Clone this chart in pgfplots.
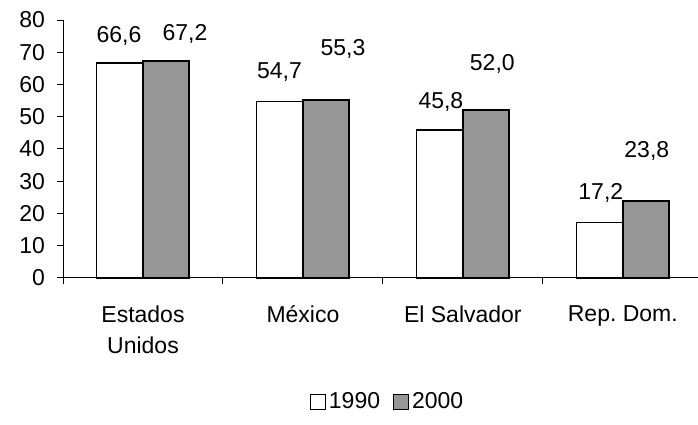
\documentclass[border=0pt]{standalone}
\usepackage{pgfplots}
\pgfplotsset{compat=1.18}
\usepackage{fontspec}
\setmainfont{Liberation Sans}
\definecolor{bargray}{RGB}{150,150,150}
\begin{document}
\fontsize{11.5}{15.5}\selectfont
\begin{tikzpicture}
\begin{axis}[
  scale only axis, width=317.5pt, height=129pt,
  xmin=-0.5, xmax=3.47, ymin=0, ymax=80,
  axis x line=bottom, axis y line=left,
  axis line style={-, line width=0.5pt},
  ytick={0,10,...,80},
  xtick={-0.5,0.5,1.5,2.5}, xticklabels={},
  extra x ticks={0,1,2,3},
  extra x tick labels={Estados\\Unidos, México, El Salvador, Rep.\ Dom.},
  extra x tick style={major tick length=0pt, tick label style={align=center, anchor=north, yshift=-10pt}},
  tick align=outside, major tick length=3pt,
  tick style={black, line width=0.5pt},
  tick label style={font=\fontsize{11.5}{15.5}\selectfont},
  yticklabel style={xshift=-2pt},
  /pgf/number format/assume math mode=true,
  clip=false,
  legend style={draw=none, at={(0.512,-0.481)}, anchor=center, legend columns=2,
    font=\fontsize{11.5}{15.5}\selectfont,
    nodes={inner xsep=1.5pt},
    /tikz/every odd column/.append style={column sep=0pt},
    /tikz/every even column/.append style={column sep=5pt}},
  legend image code/.code={\draw[#1, line width=0.5pt] (0pt,-3.75pt) rectangle (7.5pt,3.75pt);},
]
\addplot[ybar, bar width=0.29, bar shift=-0.145, fill=white, draw=black, line width=0.9pt]
  coordinates {(0,66.6) (1,54.7) (2,45.8) (3,17.2)};
\addlegendentry{1990}
\addplot[ybar, bar width=0.29, bar shift=0.145, fill=bargray, draw=black, line width=0.9pt]
  coordinates {(0,67.2) (1,55.3) (2,52.0) (3,23.8)};
\addlegendentry{2000}
\node at (axis cs:-0.15,75.2) {66,6};
\node at (axis cs:0.2625,75.8) {67,2};
\node at (axis cs:0.853,63.9) {54,7};
\node at (axis cs:1.25,71.0) {55,3};
\node at (axis cs:1.8625,54.6) {45,8};
\node at (axis cs:2.184,66.5) {52,0};
\node at (axis cs:2.8625,26.3) {17,2};
\node at (axis cs:3.15,39.5) {23,8};
\coordinate (bl) at (rel axis cs:0,0);
\coordinate (tr) at (rel axis cs:1,1);
\end{axis}
\pgfresetboundingbox
\path ([xshift=-31.5pt,yshift=-73.5pt]bl) rectangle ([yshift=10pt]tr);
\end{tikzpicture}
\end{document}
